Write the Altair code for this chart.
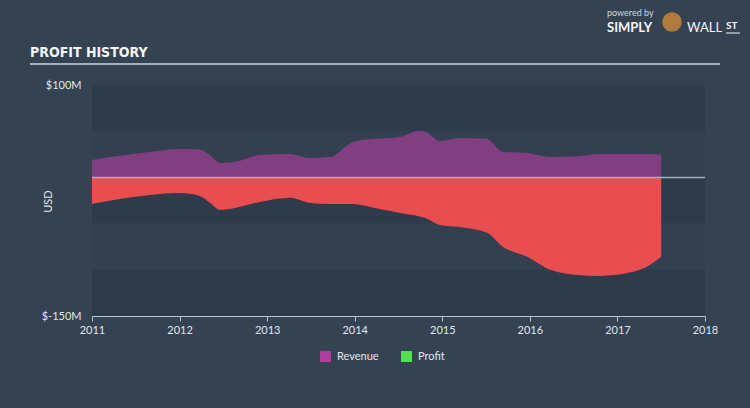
import altair as alt
import pandas as pd

# ---- data (USD millions) ----
years = [2011.0, 2011.47, 2011.66, 2012.0, 2012.23, 2012.35, 2012.46, 2012.63,
         2012.92, 2013.26, 2013.49, 2013.72, 2013.98, 2014.23, 2014.52, 2014.72,
         2014.80, 2014.97, 2015.20, 2015.51, 2015.69, 2015.97, 2016.23, 2016.54,
         2016.80, 2017.14, 2017.37, 2017.50]
revenue = [18.9, 25.4, 27.6, 30.8, 30.3, 24.0, 15.7, 16.8,
           24.4, 25.4, 21.0, 22.0, 38.4, 41.7, 43.8, 50.3,
           49.8, 39.5, 42.7, 41.7, 27.6, 26.5, 22.2, 23.0,
           25.4, 25.4, 25.4, 24.9]
profit = [-28.7, -21.1, -19.0, -16.9, -20.0, -27.6, -35.0, -33.0,
          -26.5, -22.0, -27.6, -28.7, -28.7, -33.0, -38.4, -41.7,
          -43.8, -51.4, -53.6, -60.0, -75.0, -86.0, -100.0, -105.5,
          -106.6, -103.0, -94.7, -86.0]

tick_years = [2011, 2012, 2013, 2014, 2015, 2016, 2017, 2018]
y_labels = [100, -150]
band_top = [100, 50, 0, -50, -100]
band_bottom = [50, 0, -50, -100, -150]
band_shade = ["a", "b", "a", "b", "a"]
legend_names = ["Revenue", "Profit"]
legend_colors = ["#b13da0", "#52e052"]

df = pd.DataFrame({"year": years, "revenue": revenue, "profit": profit})
bands = pd.DataFrame({"top": band_top, "bottom": band_bottom, "shade": band_shade,
                      "x0": [2011] * 5, "x1": [2018] * 5})

W, H = 613, 231
BG = "#344252"
FONT = "Lato"

xscale = alt.Scale(domain=[2011, 2018], nice=False, zero=False)
yscale = alt.Scale(domain=[-150, 100], nice=False, zero=False)

x_axis = alt.Axis(values=tick_years, format="d", title=None, grid=False,
                  domainColor="#b8c4d0", tickColor="#b8c4d0", tickSize=5,
                  labelColor="#e0e6ee", labelFont=FONT, labelFontSize=11,
                  labelPadding=3, domainWidth=1, labelFlush=False)
y_axis = alt.Axis(values=y_labels, title="USD", grid=False, domain=False, ticks=False,
                  labelExpr="'$' + datum.value + 'M'", labelColor="#e0e6ee",
                  labelFont=FONT, labelFontSize=11, labelPadding=11,
                  titleColor="#e0e6ee", titleFont=FONT, titleFontSize=11,
                  titleFontWeight="normal", titleX=-39, titleY=116, titleAlign="center",
                  titleAngle=270)

band_layer = alt.Chart(bands).mark_rect().encode(
    x=alt.X("x0:Q", scale=xscale, axis=x_axis),
    x2="x1:Q",
    y=alt.Y("top:Q", scale=yscale, axis=y_axis),
    y2="bottom:Q",
    color=alt.Color("shade:N", scale=alt.Scale(domain=["a", "b"], range=["#2f3b4a", "#334050"]), legend=None),
)

base = alt.Chart(df)

rev_area = base.transform_calculate(series="'Revenue'").mark_area(
    interpolate="monotone", opacity=0.62
).encode(
    x=alt.X("year:Q", scale=xscale),
    y=alt.Y("revenue:Q", scale=yscale),
    y2=alt.datum(0),
    fill=alt.Fill("series:N", scale=alt.Scale(domain=legend_names, range=legend_colors),
                  legend=alt.Legend(title=None, orient="none", direction="horizontal",
                                    legendX=228, legendY=266, symbolType="square",
                                    symbolSize=120, symbolOpacity=1, symbolStrokeWidth=0,
                                    labelColor="#e0e6ee", labelFont=FONT, labelFontSize=11,
                                    labelOffset=6, columnPadding=22)),
)

prof_area = base.mark_area(interpolate="monotone", color="#e84e4f", opacity=1).encode(
    x=alt.X("year:Q", scale=xscale),
    y=alt.Y("profit:Q", scale=yscale),
    y2=alt.datum(0),
)

zero_rule = alt.Chart(pd.DataFrame({"a": [2011], "b": [2018], "v": [0]})).mark_rule(
    color="#a6b2be", strokeWidth=1.5
).encode(x=alt.X("a:Q", scale=xscale), x2="b:Q", y=alt.Y("v:Q", scale=yscale))

title_text = alt.Chart(pd.DataFrame({"t": ["PROFIT HISTORY"]})).mark_text(
    align="left", baseline="alphabetic",
    font="DejaVu Sans Condensed, Liberation Sans Narrow, sans-serif",
    fontWeight="bold", fontSize=14, color="#f2f4f6"
).encode(text="t:N", x=alt.value(-62), y=alt.value(-28))

title_rule = alt.Chart(pd.DataFrame({"t": [1]})).mark_rule(color="#c8d6e4", strokeWidth=1.5).encode(
    x=alt.value(-62), x2=alt.value(628), y=alt.value(-21))

powered = alt.Chart(pd.DataFrame({"t": ["powered by"]})).mark_text(
    align="left", baseline="middle", font=FONT, fontSize=9, color="#d0d6de"
).encode(text="t:N", x=alt.value(515), y=alt.value(-72))

simply = alt.Chart(pd.DataFrame({"t": ["SIMPLY"]})).mark_text(
    align="left", baseline="middle", font=FONT, fontWeight="bold", fontSize=13, color="#f2f4f6"
).encode(text="t:N", x=alt.value(515), y=alt.value(-57))

wall = alt.Chart(pd.DataFrame({"t": ["WALL"]})).mark_text(
    align="left", baseline="middle", font=FONT, fontSize=13, color="#f2f4f6"
).encode(text="t:N", x=alt.value(595), y=alt.value(-57))

st = alt.Chart(pd.DataFrame({"t": ["ST"]})).mark_text(
    align="left", baseline="middle", font=FONT, fontWeight="bold", fontSize=10, color="#f2f4f6"
).encode(text="t:N", x=alt.value(634), y=alt.value(-59))

st_rule = alt.Chart(pd.DataFrame({"t": [1]})).mark_rule(color="#f2f4f6", strokeWidth=1).encode(
    x=alt.value(634), x2=alt.value(648), y=alt.value(-52))

logo_head = alt.Chart(pd.DataFrame({"t": [1]})).mark_point(
    filled=True, shape="circle", size=380, color="#b07a3a", opacity=1
).encode(x=alt.value(580), y=alt.value(-63))

chart = alt.layer(
    band_layer, rev_area, prof_area, zero_rule,
    title_text, title_rule, powered, simply, wall, st, st_rule, logo_head
).properties(
    width=W, height=H, background=BG,
    padding={"left": 92, "top": 85, "right": 45, "bottom": 92},
    autosize=alt.AutoSizeParams(type="none"),
).configure_view(stroke=None)

chart.save("out.html", embed_options={"renderer": "svg", "actions": False})
